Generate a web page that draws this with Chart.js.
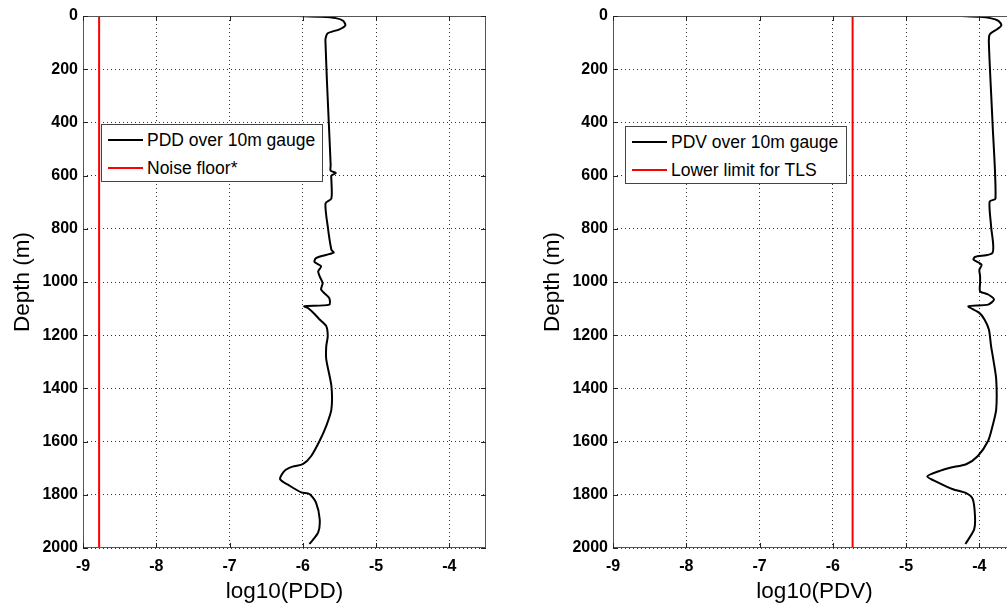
<!DOCTYPE html>
<html>
<head>
<meta charset="utf-8">
<script src="https://cdn.jsdelivr.net/npm/chart.js@4"></script>
<style>
	html, body { margin: 0; padding: 0; background: #fff; overflow: hidden; width: 1007px; height: 605px; }
	.panel { position: absolute; top: 0; width: 488px; height: 605px; }
	#leftPanel { left: 0; }
	#rightPanel { left: 530px; }
	.legend { position: absolute; background: #fff; border: 1px solid #444; width: 220px; height: 56px;
		font: 17.5px 'Liberation Sans', Arial, sans-serif; color: #000; }
	.legend .row { position: absolute; left: 0; height: 28px; line-height: 28px; white-space: nowrap; }
	.legend .swatch { position: absolute; left: 6px; top: 13px; width: 35px; height: 2px; }
	.legend .label { position: absolute; left: 45px; top: 0; }
</style>
</head>
<body>
<div class="panel" id="leftPanel"><canvas id="pddChart" width="488" height="605"></canvas></div>
<div class="panel" id="rightPanel"><canvas id="pdvChart" width="488" height="605"></canvas></div>
<div class="legend" id="pddLegend" style="left:101px; top:124px;"></div>
<div class="legend" id="pdvLegend" style="left:625px; top:126px;"></div>
<script>
(function () {
	// depth (m) and log10 values
	const pddDepth = [0, 3, 8, 18, 35, 50, 65, 85, 104, 250, 404, 560, 582, 590, 600, 616, 686, 704, 791, 879, 890, 910, 925, 941, 960, 979, 1004, 1029, 1060, 1085, 1091, 1098, 1120, 1141, 1166, 1204, 1241, 1291, 1391, 1479, 1541, 1597, 1654, 1685, 1694, 1710, 1741, 1766, 1791, 1797, 1829, 1891, 1941, 1985];
	const pddValue = [-6.07, -5.75, -5.55, -5.45, -5.42, -5.50, -5.66, -5.69, -5.69, -5.67, -5.645, -5.62, -5.62, -5.55, -5.61, -5.61, -5.61, -5.69, -5.66, -5.61, -5.58, -5.82, -5.84, -5.75, -5.79, -5.77, -5.73, -5.75, -5.64, -5.64, -5.98, -5.93, -5.84, -5.77, -5.68, -5.66, -5.68, -5.68, -5.61, -5.61, -5.68, -5.77, -5.885, -6.0, -6.14, -6.25, -6.31, -6.18, -6.02, -5.91, -5.82, -5.77, -5.79, -5.91];

	const pdvDepth = [0, 3, 8, 18, 35, 50, 70, 104, 404, 686, 698, 791, 890, 906, 916, 935, 954, 979, 1004, 1035, 1047, 1066, 1085, 1091, 1116, 1141, 1179, 1241, 1291, 1366, 1479, 1541, 1597, 1654, 1685, 1698, 1710, 1731, 1754, 1779, 1794, 1816, 1879, 1929, 1985];
	const pdvValue = [-4.245, -4.0, -3.85, -3.74, -3.70, -3.76, -3.86, -3.87, -3.82, -3.78, -3.86, -3.84, -3.82, -4.06, -4.08, -3.97, -4.0, -3.99, -3.99, -3.99, -3.88, -3.80, -3.88, -4.15, -4.0, -3.93, -3.87, -3.84, -3.81, -3.77, -3.77, -3.82, -3.88, -4.02, -4.18, -4.40, -4.54, -4.71, -4.56, -4.36, -4.18, -4.09, -4.06, -4.07, -4.19];

	const noiseFloor = -8.78;
	const tlsLimit = -5.73;
	const depthRange = [0, 2000];
	const xRange = [-9, -3.5];

	const tickFont = { family: "'Liberation Sans', Arial, sans-serif", size: 16, weight: 'bold' };
	const titleFont = { family: "'Liberation Sans', Arial, sans-serif", size: 22.5, weight: 'normal' };

	function toPoints(xs, ys) {
		return xs.map((x, i) => ({ x: x, y: ys[i] }));
	}

	// MATLAB style box with inward tick marks
	const boxPlugin = {
		id: 'box',
		afterDraw(chart) {
			const { ctx, chartArea: a, scales } = chart;
			ctx.save();
			ctx.strokeStyle = '#555';
			ctx.lineWidth = 1;
			ctx.strokeRect(a.left + 0.5, a.top + 0.5, a.right - a.left - 1, a.bottom - a.top - 1);
			ctx.strokeStyle = '#222';
			ctx.beginPath();
			scales.x.ticks.forEach(t => {
				const px = Math.round(scales.x.getPixelForValue(t.value)) + 0.5;
				ctx.moveTo(px, a.bottom); ctx.lineTo(px, a.bottom - 5);
				ctx.moveTo(px, a.top); ctx.lineTo(px, a.top + 5);
			});
			scales.y.ticks.forEach(t => {
				const py = Math.round(scales.y.getPixelForValue(t.value)) + 0.5;
				ctx.moveTo(a.left, py); ctx.lineTo(a.left + 5, py);
				ctx.moveTo(a.right, py); ctx.lineTo(a.right - 5, py);
			});
			ctx.stroke();
			ctx.restore();
		},
	};

	function makeLegend(el, datasets) {
		datasets.forEach((ds, i) => {
			const row = document.createElement('div');
			row.className = 'row';
			row.style.top = (1 + i * 28) + 'px';
			const sw = document.createElement('span');
			sw.className = 'swatch';
			sw.style.background = ds.borderColor;
			const lb = document.createElement('span');
			lb.className = 'label';
			lb.textContent = ds.label;
			row.appendChild(sw);
			row.appendChild(lb);
			el.appendChild(row);
		});
	}

	function depthPanel(canvasId, legendId, curveLabel, xs, ys, limitLabel, limit, xTitle) {
		const datasets = [
			{
				label: curveLabel,
				data: toPoints(xs, ys),
				showLine: true,
				borderColor: '#000',
				borderWidth: 2,
				pointRadius: 0,
				tension: 0.25,
			},
			{
				label: limitLabel,
				data: toPoints([limit, limit], depthRange),
				showLine: true,
				borderColor: '#ff0000',
				borderWidth: 2,
				pointRadius: 0,
			},
		];
		const config = {
			type: 'scatter',
			data: { datasets: datasets },
			options: {
				responsive: false,
				animation: false,
				layout: { padding: { top: 16, right: 2, bottom: 0, left: 0 } },
				plugins: {
					legend: { display: false },
					tooltip: { enabled: false },
				},
				scales: {
					x: {
						type: 'linear',
						min: xRange[0],
						max: xRange[1],
						afterFit: s => { s.height = 57; },
						ticks: {
							stepSize: 1,
							includeBounds: false,
							padding: 9,
							color: '#000',
							font: tickFont,
							callback: v => String(v),
						},
						grid: { color: '#333', lineWidth: 1, drawTicks: false },
						border: { display: false, dash: [1, 3] },
						title: {
							display: true,
							text: xTitle,
							color: '#000',
							font: titleFont,
							padding: { top: 0, bottom: 0 },
						},
					},
					y: {
						type: 'linear',
						reverse: true,
						min: depthRange[0],
						max: depthRange[1],
						afterFit: s => { s.width = 83; },
						ticks: {
							stepSize: 200,
							padding: 5,
							color: '#000',
							font: tickFont,
							callback: v => String(v),
						},
						grid: { color: '#333', lineWidth: 1, drawTicks: false },
						border: { display: false, dash: [1, 3] },
						title: {
							display: true,
							text: 'Depth (m)',
							color: '#000',
							font: titleFont,
							padding: { top: 9, bottom: 0 },
						},
					},
				},
			},
			plugins: [boxPlugin],
		};
		new Chart(document.getElementById(canvasId), config);
		makeLegend(document.getElementById(legendId), datasets);
	}

	depthPanel('pddChart', 'pddLegend', 'PDD over 10m gauge', pddValue, pddDepth, 'Noise floor*', noiseFloor, 'log10(PDD)');
	depthPanel('pdvChart', 'pdvLegend', 'PDV over 10m gauge', pdvValue, pdvDepth, 'Lower limit for TLS', tlsLimit, 'log10(PDV)');
})();
</script>
</body>
</html>
